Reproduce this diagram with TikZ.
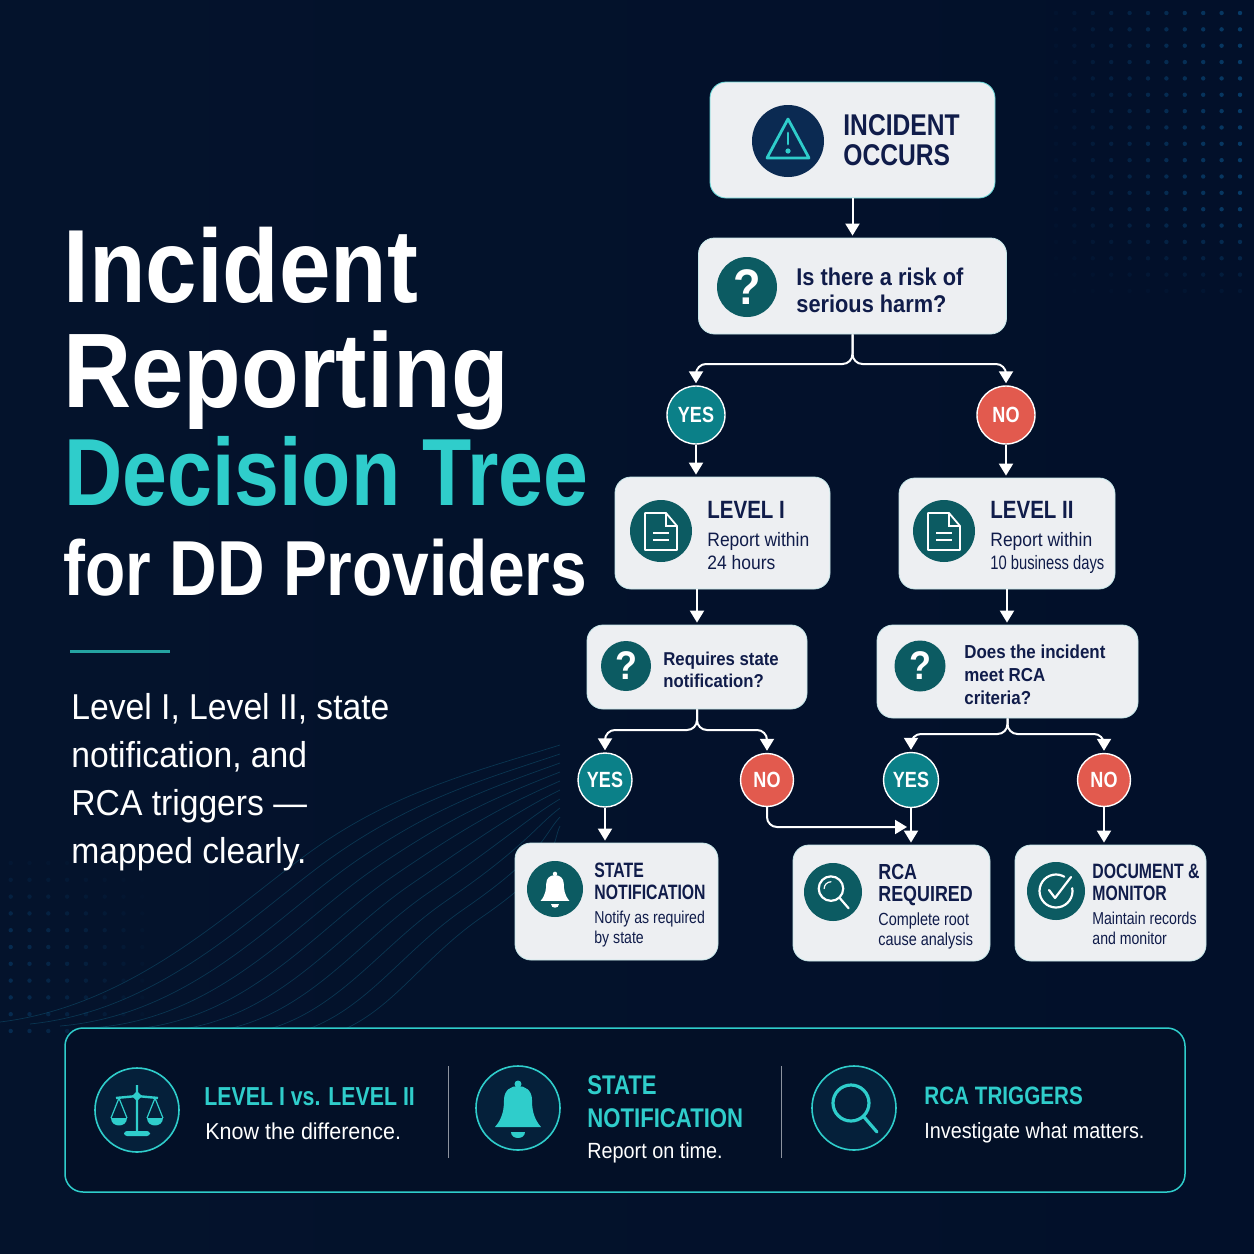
\documentclass[tikz,border=0pt]{standalone}
\usepackage{fontspec}
\setmainfont[FakeStretch=.9]{Liberation Sans}
\newfontfamily\titlefont[FakeStretch=.89]{Liberation Sans}
\newfontfamily\titlenarrow[FakeStretch=.845]{Liberation Sans}
\newfontfamily\leadfont[FakeStretch=.935]{Liberation Sans}
\newfontfamily\condfont[FakeStretch=.82]{Liberation Sans}
\newfontfamily\narrowfont[FakeStretch=.76]{Liberation Sans}
\usetikzlibrary{arrows.meta}
\definecolor{bgnavy}{HTML}{02102A}
\definecolor{bgleft}{HTML}{04132C}
\definecolor{panelnavy}{HTML}{031027}
\definecolor{ringnavy}{HTML}{05203A}
\definecolor{ink}{HTML}{101C4A}
\definecolor{aqua}{HTML}{2FCDCB}
\definecolor{cardwhite}{HTML}{EDEFF2}
\definecolor{badgeteal}{HTML}{0C5B62}
\definecolor{alertnavy}{HTML}{0B2A52}
\definecolor{yesteal}{HTML}{0B8088}
\definecolor{nored}{HTML}{E25A4E}
\definecolor{dotblue}{HTML}{0A4A7C}
\definecolor{wavecol}{HTML}{0B3C58}
\tikzset{
	>={Triangle[width=7pt,length=6pt]},
	flow/.style={->, white, line width=1pt, shorten >=1pt, rounded corners=5pt},
	card/.style={rectangle, rounded corners=8pt, fill=cardwhite, draw=aqua!20!cardwhite, line width=.4pt, minimum width=#1},
	badge/.style={circle, fill=badgeteal, text=white, inner sep=0, minimum size=#1},
	ring/.style={circle, fill=ringnavy, draw=aqua, line width=.8pt, minimum size=42pt, inner sep=0},
	yesnode/.style={circle, fill=yesteal, draw=white, line width=.7pt, text=white, inner sep=0, minimum size=#1, font=\condfont\fontsize{11}{11}\selectfont\bfseries},
	nonode/.style={yesnode=#1, fill=nored},
	txt/.style={anchor=base west, inner sep=0, align=left},
	cardhead/.style={txt, text=ink, font=\condfont\fontsize{#1}{#1}\selectfont\bfseries},
	narrowhead/.style={txt, text=ink, font=\narrowfont\fontsize{10.4}{10.7}\selectfont\bfseries},
	ask/.style 2 args={txt, text=ink, font=\fontsize{#1}{#2}\selectfont\bfseries},
	cardsub/.style={txt, text=ink, font=\condfont\fontsize{#1}{10}\selectfont},
	panelhead/.style={txt, text=aqua, font=\condfont\fontsize{#1}{15}\selectfont\bfseries},
	panelsub/.style={txt, text=white, font=\fontsize{11}{13}\selectfont},
	warnicon/.pic={
		\draw[pic actions, line join=round] (0,-22) -- (21,17) -- (-21,17) -- cycle;
		\draw[pic actions, line cap=round] (0,-8) -- (0,3);
		\fill[aqua] (0,10) circle[radius=2.6];
	},
	docicon/.pic={
		\draw[pic actions, line join=round] (-16,-18) -- (5,-18) -- (16,-5) -- (16,19) -- (-16,19) -- cycle;
		\draw[pic actions] (5,-18) -- (5,-5) -- (16,-5) (-8,2) -- (8,2) (-8,9) -- (8,9);
	},
	bellicon/.pic={
		\fill[pic actions] (0,-24) circle[radius=3.5];
		\fill[pic actions] (-23,19) .. controls (-15,10) and (-14,0) .. (-14,-8) .. controls (-14,-18) and (-7,-22) .. (0,-22) .. controls (7,-22) and (14,-18) .. (14,-8) .. controls (14,0) and (15,10) .. (23,19) -- cycle;
		\fill[pic actions] (-7,24) -- (7,24) .. controls (7,32) and (-7,32) .. (-7,24) -- cycle;
	},
	lensicon/.pic={
		\draw[pic actions] (-3,-5) circle[radius=18];
		\draw[pic actions, line cap=round] (10,9) -- (23,24);
	},
	glinticon/.pic={
		\draw[pic actions, line cap=round] (180:10) ++(-3,-5) arc (180:270:10);
	},
	checkicon/.pic={
		\draw[pic actions, line cap=round] (-10:16.5) arc (-10:300:16.5);
		\draw[pic actions, line cap=round, line join=round] (-7,-1) -- (-1,7) -- (15,-14);
	},
	scalesicon/.pic={
		\draw[aqua, line width=1.2pt, line join=round] (-21,-12) -- (0,-14) -- (21,-12) (0,-25) -- (0,23);
		\fill[aqua] (0,-19) -- (5,-14) -- (0,-9) -- (-5,-14) -- cycle;
		\draw[aqua, line width=.6pt] (-26,8) -- (-18,-12) -- (-10,8) (10,8) -- (18,-12) -- (26,8);
		\fill[aqua] (-26,8) -- (-10,8) .. controls (-10,18) and (-26,18) .. (-26,8) -- cycle;
		\fill[aqua] (10,8) -- (26,8) .. controls (26,18) and (10,18) .. (10,8) -- cycle;
		\fill[aqua, rounded corners=1.5pt] (-13,21) rectangle (13,26);
	},
}

\begin{document}
\begin{tikzpicture}[x=.5pt,y=-.5pt]
	\useasboundingbox (0,0) rectangle (1254,1254);
	\shade[left color=bgleft, right color=bgnavy] (0,0) rectangle (1254,1254);
	\foreach \k in {0,...,9}
		\draw[wavecol, line width=.35pt, opacity=.85] ({30*\k},{1022+2*\k}) .. controls ({140+26*\k},{1005+5*\k}) and ({240+18*\k},{900+8*\k}) .. ({320+18*\k},{845+8*\k}) .. controls ({400+18*\k},{790+8*\k}) and ({480+8*\k},{770+8*\k}) .. (560,{745+9*\k});
	\foreach \i in {0,...,10}
		\foreach \j in {0,...,17} {
			\pgfmathsetmacro\fade{(1-\i/11)*min(1,(18-\j)/6)*.75}
			\fill[dotblue, opacity=\fade] ({1240-18.4*\i},{13+16.35*\j}) circle[radius=2.2];
		}
	\foreach \i in {0,...,7}
		\foreach \j in {0,...,10} {
			\pgfmathsetmacro\fade{(1-\i/8)*min(1,(\j+1)/5)*.45}
			\fill[dotblue, opacity=\fade] ({10.7+18.8*\i},{863+16.8*\j}) circle[radius=2.2];
		}

	\node[txt, text=white, font=\titlefont\fontsize{52}{52}\selectfont\bfseries] (titlea) at (63,302) {Incident};
	\node[txt, text=white, font=\titlefont\fontsize{53}{53}\selectfont\bfseries] (titleb) at (63,407) {Reporting};
	\node[txt, text=aqua, font=\titlenarrow\fontsize{47.7}{48}\selectfont\bfseries] (titlec) at (64,505) {Decision Tree};
	\node[txt, text=white, font=\titlenarrow\fontsize{39}{39}\selectfont\bfseries] (titled) at (63,595) {for DD Providers};
	\draw[aqua!80!black, line width=1.5pt] (70,651) -- (170,651);
	\node[txt, text=white, font=\leadfont\fontsize{18}{24}\selectfont] (subtitle) at (71,863) {Level I, Level II, state\\notification, and\\RCA triggers —\\mapped clearly.};

	\node[card=142.5pt, minimum height=58pt, draw=aqua!70!cardwhite] (incident) at (852.5,140) {};
	\node[badge=36pt, fill=alertnavy] (warn) at (788,141) {};
	\pic[aqua, line width=1.4pt] at (warn) {warnicon};
	\node[cardhead=15, font=\condfont\fontsize{15}{15}\selectfont\bfseries] at (843,165) {INCIDENT\\OCCURS};

	\node[card=154pt, minimum height=48pt] (risk) at (852.5,286) {};
	\node[badge=30pt, font=\fontsize{25}{25}\selectfont\bfseries] at (747,287) {?};
	\node[ask={12.1}{13.5}] at (796,312) {Is there a risk of\\serious harm?};

	\node[yesnode=29pt] (yesa) at (696,415) {YES};
	\node[nonode=29pt] (noa) at (1006,415) {NO};

	\node[card=107.5pt, minimum height=56pt] (levela) at (722.5,533) {};
	\node[badge=31pt] (doca) at (661,531) {};
	\pic[white, line width=.9pt] at (doca) {docicon};
	\node[cardhead=12.5] at (707,518) {LEVEL I};
	\node[txt, text=ink, font=\fontsize{9.7}{11.5}\selectfont] at (707,569) {Report within\\24 hours};

	\node[card=108pt, minimum height=55.5pt] (levelb) at (1007,533.5) {};
	\node[badge=31pt] (docb) at (944,531) {};
	\pic[white, line width=.9pt] at (docb) {docicon};
	\node[cardhead=12.5] at (990,518) {LEVEL II};
	\node[txt, text=ink, font=\fontsize{9.7}{11.5}\selectfont] at (990,569) {Report within\\{\narrowfont 10 business days}};

	\node[card=110pt, minimum height=42pt] (askstate) at (697,667) {};
	\node[badge=25pt, font=\fontsize{20}{20}\selectfont\bfseries] at (626,666) {?};
	\node[ask={9.3}{11}] at (663,687) {Requires state\\notification?};

	\node[card=130.5pt, minimum height=46.5pt] (askrca) at (1007.5,671.5) {};
	\node[badge=25.5pt, font=\fontsize{20}{20}\selectfont\bfseries] at (920,666) {?};
	\node[ask={9.4}{11.5}] at (964,704) {Does the incident\\meet RCA\\criteria?};

	\node[yesnode=27pt] (yesb) at (605,780) {YES};
	\node[nonode=26.5pt] (nob) at (767,780) {NO};
	\node[yesnode=27.5pt] (yesc) at (911,780) {YES};
	\node[nonode=26.5pt] (noc) at (1104,780) {NO};

	\node[card=101.5pt, minimum height=58.5pt] (notify) at (616.5,901.5) {};
	\node[badge=28pt] (bella) at (555,889) {};
	\pic[scale=.63, fill=white] at (bella) {bellicon};
	\node[narrowhead] at (594,899) {STATE\\NOTIFICATION};
	\node[cardsub=8.6] at (594,943) {Notify as required\\by state};

	\node[card=98.5pt, minimum height=58pt] (rootcause) at (891.5,903) {};
	\node[badge=29pt] (lensa) at (833,892) {};
	\pic[scale=.68, white, line width=1.1pt] at (lensa) {lensicon};
	\pic[scale=.68, white, line width=.6pt] at (lensa) {glinticon};
	\node[cardhead=10.9, font=\condfont\fontsize{10.9}{11}\selectfont\bfseries] at (878,901) {RCA\\REQUIRED};
	\node[cardsub=8.8] at (878,945) {Complete root\\cause analysis};

	\node[card=95.5pt, minimum height=58pt] (monitor) at (1110.5,903) {};
	\node[badge=29pt] (checka) at (1056,891) {};
	\pic[white, line width=1.1pt] at (checka) {checkicon};
	\node[narrowhead] at (1092,900) {DOCUMENT \&\\MONITOR};
	\node[cardsub=8.6] at (1092,944) {Maintain records\\and monitor};

	\coordinate (riskfork) at (852.5,364);
	\coordinate (statefork) at (697,730);
	\coordinate (rcafork) at (1007.5,734);
	\coordinate (rcajoin) at (909,827);

	\draw[flow] (incident) edge (risk);
	\draw[flow] (risk.south) -- (riskfork) -| (yesa.north);
	\draw[flow] (risk.south) -- (riskfork) -| (noa.north);
	\draw[flow] (yesa.south) -- (yesa.south |- levela.north);
	\draw[flow] (noa.south) -- (noa.south |- levelb.north);
	\draw[flow] (levela.south -| askstate.north) -- (askstate.north);
	\draw[flow] (levelb.south) -- (levelb.south |- askrca.north);
	\draw[flow] (askstate.south) -- (statefork) -| (yesb.north);
	\draw[flow] (askstate.south) -- (statefork) -| (nob.north);
	\draw[flow] (askrca.south) -- (rcafork) -| (yesc.north);
	\draw[flow] (askrca.south) -- (rcafork) -| (noc.north);
	\draw[flow] (yesb.south) -- (yesb.south |- notify.north);
	\draw[flow] (yesc.south) -- (yesc.south |- rootcause.north);
	\draw[flow] (noc.south) -- (noc.south |- monitor.north);
	\draw[flow] (nob.south) |- (rcajoin);

	\draw[fill=panelnavy, draw=aqua, line width=.75pt, rounded corners=9pt] (65,1028) rectangle (1185,1192);
	\draw[white!55!bgnavy, line width=.5pt] (448,1066) -- (448,1158) (781,1066) -- (781,1158);

	\node[ring] (ringa) at (137,1110) {};
	\pic at (ringa) {scalesicon};
	\node[panelhead=13] at (204,1105) {LEVEL I vs. LEVEL II};
	\node[panelsub, font=\leadfont\fontsize{11.5}{13}\selectfont] at (205,1139) {Know the difference.};

	\node[ring] (ringb) at (518,1108) {};
	\pic[fill=aqua] at (ringb) {bellicon};
	\node[panelhead=13.5] at (587,1127) {STATE\\[1.2pt]NOTIFICATION};
	\node[panelsub] at (587,1158) {Report on time.};

	\node[ring] (ringc) at (854,1108) {};
	\pic[aqua, line width=1.6pt] at (ringc) {lensicon};
	\node[panelhead=12.6] at (924,1104) {RCA TRIGGERS};
	\node[panelsub] at (924,1138) {Investigate what matters.};
\end{tikzpicture}
\end{document}
